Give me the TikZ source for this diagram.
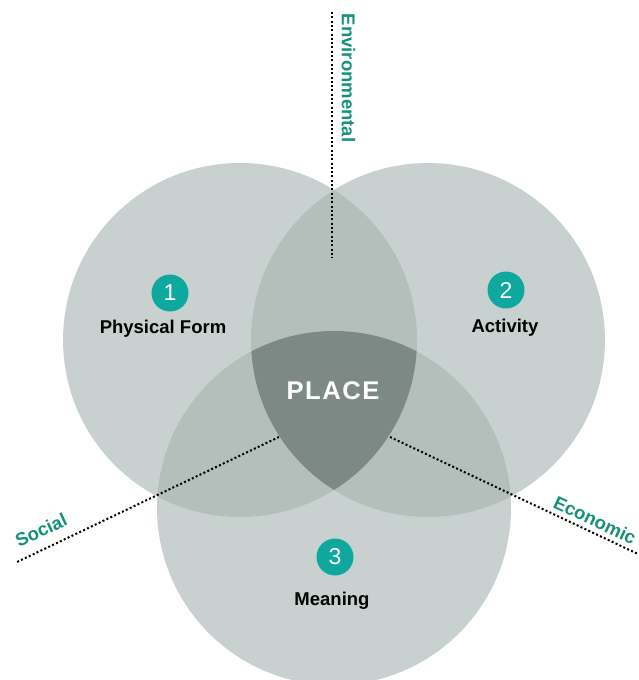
\documentclass[tikz,border=0pt]{standalone}
\usepackage{fontspec}
\setmainfont{Liberation Sans}
\definecolor{ringgray}{HTML}{C9D1D0}
\definecolor{lensgray}{HTML}{B4BFBC}
\definecolor{coregray}{HTML}{7C8985}
\definecolor{badgeteal}{HTML}{0FA89E}
\definecolor{axisgreen}{HTML}{15917A}
\tikzset{
  badge/.style={circle, fill=badgeteal, text=white, minimum size=37pt, inner sep=0pt,
    font=\fontsize{23}{23}\selectfont},
  facet/.style={anchor=base, font=\fontsize{18.5}{18.5}\selectfont\bfseries},
  axislabel/.style={text=axisgreen, inner sep=0pt, font=\fontsize{18.5}{18.5}\selectfont\bfseries},
  axisline/.style={line width=2pt, dash pattern=on 2pt off 2.3pt}
}
\newcommand{\ringr}{177pt}
\begin{document}
\begin{tikzpicture}[x=1pt,y=-1pt]
  \useasboundingbox (0,0) rectangle (638,680);
  \clip (0,0) rectangle (638,680);

  % Centres of the three circles
  \coordinate (form) at (240,340);
  \coordinate (activity) at (428,340);
  \coordinate (meaning) at (334,508);

  % Circles
  \fill[ringgray] (form) circle[radius=\ringr];
  \fill[ringgray] (activity) circle[radius=\ringr];
  \fill[ringgray] (meaning) circle[radius=\ringr];

  % Overlaps of two circles
  \begin{scope}
    \clip (form) circle[radius=\ringr];
    \fill[lensgray] (activity) circle[radius=\ringr];
    \fill[lensgray] (meaning) circle[radius=\ringr];
  \end{scope}
  \begin{scope}
    \clip (activity) circle[radius=\ringr];
    \fill[lensgray] (meaning) circle[radius=\ringr];
  \end{scope}

  % Overlap of all three
  \begin{scope}
    \clip (form) circle[radius=\ringr];
    \clip (activity) circle[radius=\ringr];
    \fill[coregray] (meaning) circle[radius=\ringr];
  \end{scope}

  % Dotted axes
  \coordinate (envtop) at (332,12);
  \coordinate (envend) at (332,258);
  \coordinate (soctop) at (279,437);
  \coordinate (socend) at (17,562);
  \coordinate (ecotop) at (390,437);
  \coordinate (ecoend) at (638,554);
  \draw[axisline] (envtop) -- (envend);
  \draw[axisline] (soctop) -- (socend);
  \draw[axisline] (ecotop) -- (ecoend);

  \node[axislabel, rotate=-90] (env) at (348.5,78) {Environmental};
  \node[axislabel, rotate=25] (soc) at (41,530) {Social};
  \node[axislabel, rotate=-25] (eco) at (595,520) {Economic};

  % Numbered badges and their names
  \node[badge] (b1) at (170,293) {1};
  \node[badge] (b2) at (506,290) {2};
  \node[badge] (b3) at (335,557) {3};
  \node[facet] (formname) at (163,333) {Physical Form};
  \node[facet] (activityname) at (505,332) {Activity};
  \node[facet] (meaningname) at (332,605) {Meaning};

  % Centre
  \node[anchor=base, text=white, font=\fontsize{25.6}{25.6}\selectfont\bfseries\addfontfeature{LetterSpace=6}]
    (place) at (333,399) {PLACE};
\end{tikzpicture}
\end{document}
